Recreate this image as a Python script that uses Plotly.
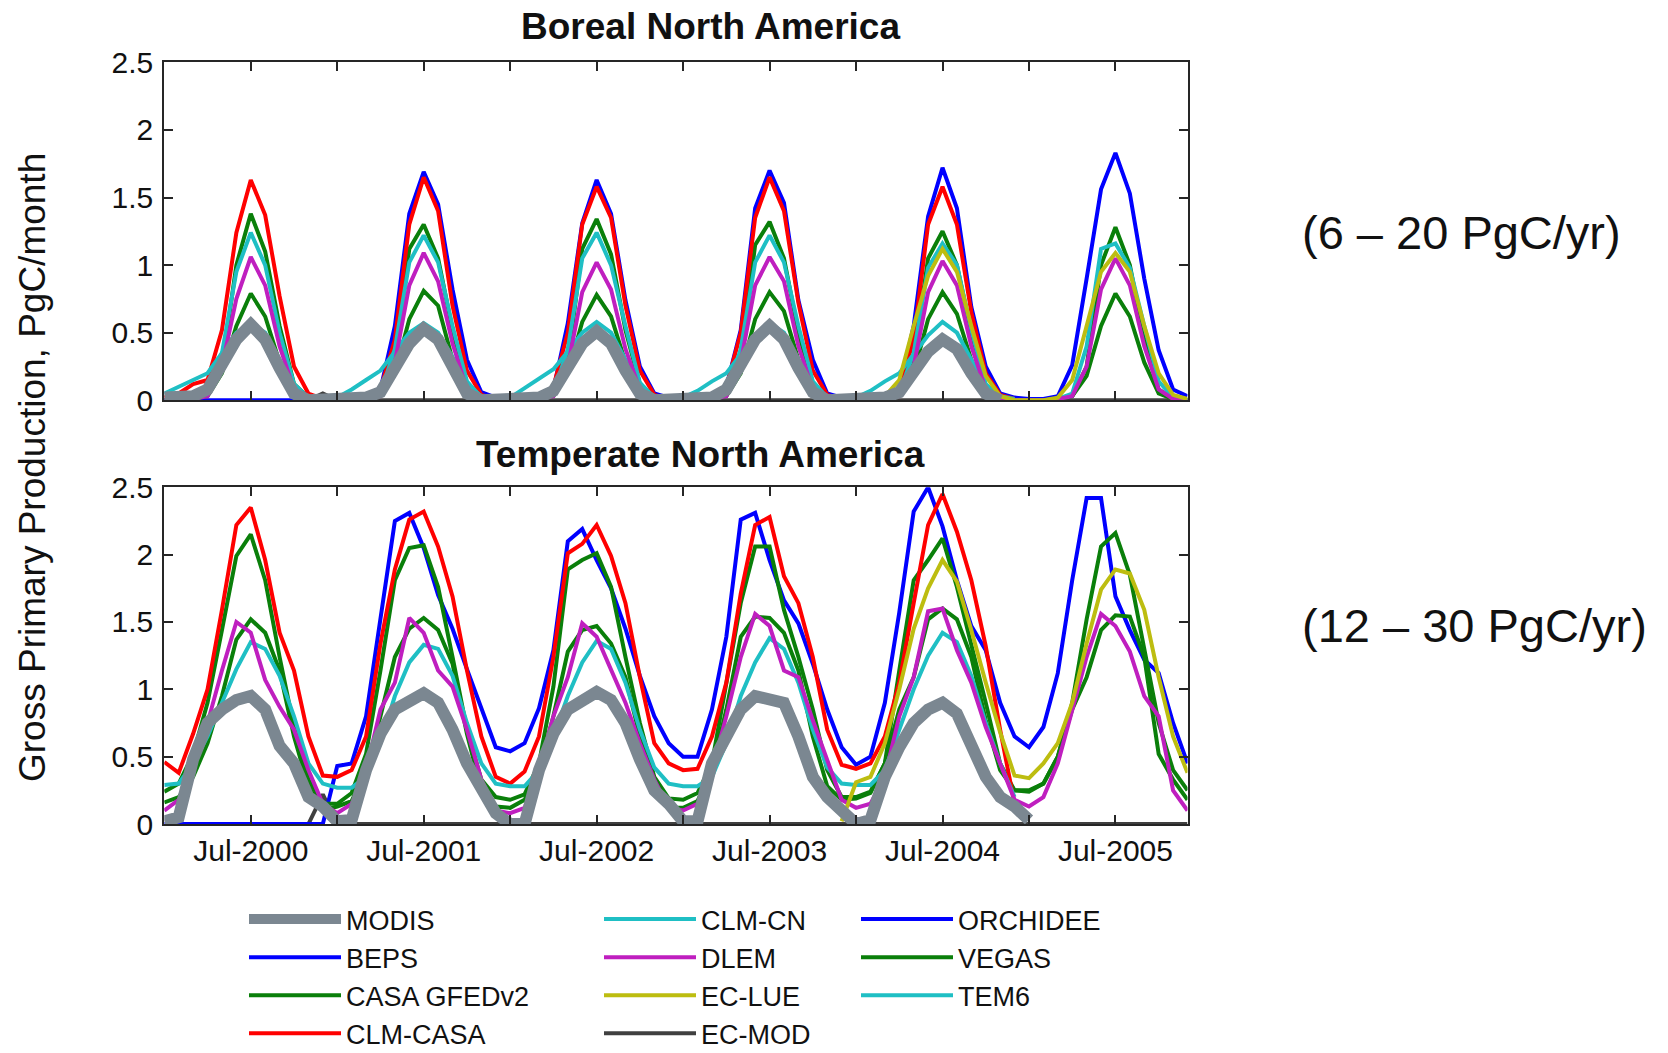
import plotly.graph_objects as go

N = None
months = list(range(72))  # month index: 0 = Jan-2000 ... 71 = Dec-2005

x_tick_months = [0, 6, 12, 18, 24, 30, 36, 42, 48, 54, 60, 66]
x_tick_text = ['', 'Jul-2000', '', 'Jul-2001', '', 'Jul-2002', '', 'Jul-2003', '', 'Jul-2004', '', 'Jul-2005']
y_tick_vals = [0, 0.5, 1, 1.5, 2, 2.5]
y_tick_text = ['0', '0.5', '1', '1.5', '2', '2.5']

panel_titles = ['Boreal North America', 'Temperate North America']
panel_ranges = ['(6 \u2013 20 PgC/yr)', '(12 \u2013 30 PgC/yr)']
y_title = 'Gross Primary Production, PgC/month'

# ---------------- Boreal North America ----------------
boreal_modis = [
    0.02, 0.02, 0.03, 0.08, 0.25, 0.45, 0.56, 0.45, 0.24, 0.05, 0.0, 0.0,
    0.0, 0.0, 0.02, 0.06, 0.22, 0.42, 0.53, 0.45, 0.25, 0.05, 0.0, 0.0,
    0.0, 0.0, 0.02, 0.07, 0.24, 0.42, 0.51, 0.42, 0.22, 0.05, 0.0, 0.0,
    0.0, 0.0, 0.02, 0.08, 0.26, 0.45, 0.55, 0.45, 0.24, 0.06, 0.0, 0.0,
    0.0, 0.0, 0.02, 0.06, 0.2, 0.36, 0.45, 0.38, 0.2, 0.05, 0.0, N,
    N, N, N, N, N, N, N, N, N, N, N, N]
boreal_beps = [
    0.0, 0.0, 0.0, 0.0, 0.0, 0.0, 0.0, 0.0, 0.0, 0.0, 0.0, 0.0,
    0.0, 0.0, 0.02, 0.08, 0.55, 1.38, 1.69, 1.45, 0.82, 0.3, 0.06, 0.02,
    0.01, 0.01, 0.02, 0.08, 0.57, 1.31, 1.63, 1.38, 0.74, 0.25, 0.05, 0.02,
    0.01, 0.01, 0.02, 0.1, 0.52, 1.42, 1.70, 1.46, 0.74, 0.3, 0.05, 0.02,
    0.01, 0.01, 0.02, 0.08, 0.55, 1.36, 1.72, 1.42, 0.69, 0.25, 0.05, 0.02,
    0.01, 0.01, 0.03, 0.26, 0.9, 1.56, 1.83, 1.53, 0.9, 0.37, 0.08, 0.03]
boreal_casa = [
    0.0, 0.0, 0.02, 0.05, 0.25, 1.0, 1.38, 1.1, 0.55, 0.12, 0.02, 0.0,
    0.0, 0.0, 0.01, 0.04, 0.3, 1.12, 1.30, 1.05, 0.52, 0.12, 0.02, 0.0,
    0.0, 0.0, 0.01, 0.04, 0.28, 1.12, 1.34, 1.08, 0.52, 0.12, 0.02, 0.0,
    0.0, 0.0, 0.01, 0.04, 0.3, 1.15, 1.32, 1.05, 0.5, 0.12, 0.02, 0.0,
    0.0, 0.0, 0.01, 0.04, 0.3, 1.05, 1.25, 1.0, 0.5, 0.1, 0.02, 0.0,
    0.0, 0.0, 0.01, 0.03, 0.25, 1.0, 1.28, 1.0, 0.45, 0.08, 0.01, 0.0]
boreal_clmcasa = [
    0.02, 0.05, 0.12, 0.15, 0.52, 1.24, 1.63, 1.37, 0.77, 0.25, 0.05, 0.01,
    0.0, 0.0, 0.02, 0.08, 0.45, 1.3, 1.65, 1.4, 0.7, 0.22, 0.04, 0.01,
    0.0, 0.0, 0.03, 0.1, 0.5, 1.3, 1.58, 1.35, 0.7, 0.22, 0.04, 0.01,
    0.0, 0.0, 0.03, 0.1, 0.5, 1.35, 1.65, 1.4, 0.72, 0.22, 0.04, 0.01,
    0.0, 0.0, 0.03, 0.08, 0.45, 1.3, 1.58, 1.3, 0.65, 0.2, 0.04, 0.01,
    N, N, N, N, N, N, N, N, N, N, N, N]
boreal_clmcn = [
    0.05, 0.1, 0.15, 0.2, 0.35, 0.5, 0.57, 0.5, 0.3, 0.1, 0.02, 0.01,
    0.02, 0.08, 0.15, 0.22, 0.36, 0.5, 0.57, 0.5, 0.32, 0.12, 0.03, 0.01,
    0.02, 0.09, 0.16, 0.23, 0.36, 0.5, 0.58, 0.5, 0.3, 0.1, 0.03, 0.01,
    0.02, 0.07, 0.14, 0.2, 0.34, 0.48, 0.57, 0.5, 0.3, 0.1, 0.03, 0.01,
    0.02, 0.07, 0.14, 0.2, 0.34, 0.48, 0.58, 0.5, 0.3, 0.1, 0.03, 0.01,
    N, N, N, N, N, N, N, N, N, N, N, N]
boreal_dlem = [
    0.0, 0.0, 0.01, 0.03, 0.25, 0.75, 1.06, 0.85, 0.4, 0.08, 0.01, 0.0,
    0.0, 0.0, 0.01, 0.03, 0.28, 0.85, 1.09, 0.88, 0.42, 0.08, 0.01, 0.0,
    0.0, 0.0, 0.01, 0.03, 0.25, 0.8, 1.02, 0.82, 0.38, 0.08, 0.01, 0.0,
    0.0, 0.0, 0.01, 0.03, 0.28, 0.85, 1.06, 0.88, 0.4, 0.08, 0.01, 0.0,
    0.0, 0.0, 0.01, 0.03, 0.25, 0.8, 1.03, 0.85, 0.4, 0.08, 0.01, 0.0,
    0.0, 0.0, 0.01, 0.03, 0.25, 0.82, 1.05, 0.85, 0.4, 0.08, 0.01, 0.0]
boreal_eclue = [
    N, N, N, N, N, N, N, N, N, N, N, N,
    N, N, N, N, N, N, N, N, N, N, N, N,
    N, N, N, N, N, N, N, N, N, N, N, N,
    N, N, N, N, N, N, N, N, N, N, N, 0.0,
    0.0, 0.01, 0.03, 0.15, 0.55, 0.92, 1.12, 0.95, 0.55, 0.18, 0.03, 0.0,
    0.0, 0.0, 0.02, 0.15, 0.55, 0.95, 1.09, 0.95, 0.55, 0.2, 0.04, 0.01]
boreal_ecmod = [
    N, N, N, N, N, N, N, N, N, N, 0.0, 0.05,
    0.0, 0.0, 0.0, 0.0, 0.0, 0.0, 0.0, 0.0, 0.0, 0.0, 0.0, 0.0,
    0.0, 0.0, 0.0, 0.0, 0.0, 0.0, 0.0, 0.0, 0.0, 0.0, 0.0, 0.0,
    0.0, 0.0, 0.0, 0.0, 0.0, 0.0, 0.0, 0.0, 0.0, 0.0, 0.0, 0.0,
    0.0, 0.0, 0.0, 0.0, 0.0, 0.0, 0.0, 0.0, 0.0, 0.0, 0.0, 0.0,
    0.0, 0.0, 0.0, 0.0, 0.0, 0.0, 0.0, 0.0, 0.0, 0.0, 0.0, 0.0]
boreal_orchidee = [N] * 72
boreal_vegas = [
    0.0, 0.0, 0.01, 0.03, 0.2, 0.55, 0.79, 0.62, 0.28, 0.06, 0.01, 0.0,
    0.0, 0.0, 0.01, 0.03, 0.2, 0.6, 0.81, 0.7, 0.3, 0.06, 0.01, 0.0,
    0.0, 0.0, 0.01, 0.03, 0.2, 0.58, 0.78, 0.62, 0.28, 0.06, 0.01, 0.0,
    0.0, 0.0, 0.01, 0.03, 0.2, 0.6, 0.8, 0.66, 0.3, 0.06, 0.01, 0.0,
    0.0, 0.0, 0.01, 0.03, 0.2, 0.6, 0.8, 0.64, 0.3, 0.06, 0.01, 0.0,
    0.0, 0.0, 0.01, 0.03, 0.18, 0.55, 0.79, 0.62, 0.28, 0.05, 0.01, 0.0]
boreal_tem6 = [
    0.0, 0.0, 0.01, 0.05, 0.35, 0.95, 1.24, 1.0, 0.5, 0.12, 0.02, 0.0,
    0.0, 0.0, 0.01, 0.05, 0.38, 1.02, 1.22, 1.02, 0.55, 0.14, 0.02, 0.0,
    0.0, 0.0, 0.01, 0.05, 0.38, 1.05, 1.24, 1.0, 0.55, 0.13, 0.02, 0.0,
    0.0, 0.0, 0.01, 0.05, 0.38, 1.02, 1.22, 1.02, 0.55, 0.14, 0.02, 0.0,
    0.0, 0.0, 0.01, 0.05, 0.35, 0.98, 1.16, 1.0, 0.52, 0.12, 0.02, 0.0,
    0.0, 0.0, 0.01, 0.05, 0.4, 1.12, 1.16, 0.98, 0.55, 0.14, 0.02, 0.0]

# ---------------- Temperate North America ----------------
temperate_modis = [
    0.02, 0.05, 0.48, 0.75, 0.85, 0.92, 0.95, 0.85, 0.58, 0.45, 0.2, 0.13,
    0.02, 0.03, 0.4, 0.67, 0.85, 0.92, 0.97, 0.9, 0.7, 0.45, 0.28, 0.08,
    0.0, 0.0, 0.4, 0.67, 0.85, 0.92, 0.98, 0.92, 0.75, 0.48, 0.25, 0.15,
    0.02, 0.02, 0.45, 0.65, 0.85, 0.95, 0.92, 0.9, 0.65, 0.35, 0.2, 0.1,
    0.0, 0.03, 0.35, 0.57, 0.75, 0.85, 0.9, 0.82, 0.6, 0.35, 0.2, 0.13,
    0.03, N, N, N, N, N, N, N, N, N, N, N]
temperate_beps = [
    0.0, 0.0, 0.0, 0.0, 0.0, 0.0, 0.0, 0.0, 0.0, 0.0, 0.0, 0.0,
    0.43, 0.45, 0.8, 1.52, 2.25, 2.31, 2.05, 1.7, 1.45, 1.15, 0.85, 0.57,
    0.54, 0.6, 0.86, 1.29, 2.1, 2.19, 1.96, 1.75, 1.45, 1.1, 0.8, 0.6,
    0.5, 0.5, 0.85, 1.39, 2.26, 2.31, 1.96, 1.66, 1.49, 1.19, 0.85, 0.57,
    0.44, 0.5, 0.9, 1.57, 2.32, 2.5, 2.21, 1.81, 1.47, 1.29, 0.9, 0.65,
    0.57, 0.72, 1.12, 1.81, 2.42, 2.42, 1.69, 1.44, 1.22, 1.12, 0.75, 0.45]
temperate_casa = [
    0.24, 0.3, 0.52, 0.9, 1.44, 1.99, 2.15, 1.81, 1.24, 0.72, 0.33, 0.15,
    0.15, 0.23, 0.52, 1.14, 1.81, 2.05, 2.07, 1.76, 1.24, 0.7, 0.33, 0.2,
    0.18, 0.22, 0.45, 1.02, 1.89, 1.96, 2.01, 1.76, 1.24, 0.75, 0.35, 0.19,
    0.18, 0.23, 0.45, 1.05, 1.64, 2.06, 2.06, 1.59, 1.24, 0.85, 0.4, 0.2,
    0.2, 0.24, 0.45, 1.14, 1.81, 1.96, 2.12, 1.76, 1.34, 0.9, 0.45, 0.25,
    0.24, 0.3, 0.5, 0.9, 1.52, 2.06, 2.16, 1.85, 1.3, 0.75, 0.4, 0.25]
temperate_clmcasa = [
    0.46, 0.38, 0.67, 1.0, 1.59, 2.22, 2.35, 1.96, 1.42, 1.14, 0.65, 0.36,
    0.35, 0.4, 0.65, 1.34, 1.89, 2.26, 2.32, 2.06, 1.69, 1.14, 0.65, 0.35,
    0.3, 0.39, 0.65, 1.24, 2.01, 2.08, 2.22, 1.99, 1.64, 1.09, 0.6, 0.45,
    0.4, 0.41, 0.65, 1.05, 1.71, 2.22, 2.28, 1.84, 1.64, 1.24, 0.7, 0.44,
    0.41, 0.45, 0.65, 1.05, 1.64, 2.22, 2.45, 2.17, 1.81, 1.32, 0.7, 0.15,
    N, N, N, N, N, N, N, N, N, N, N, N]
temperate_clmcn = [
    0.29, 0.3, 0.45, 0.65, 0.9, 1.15, 1.35, 1.3, 1.1, 0.8, 0.45, 0.3,
    0.27, 0.27, 0.35, 0.6, 0.95, 1.2, 1.33, 1.3, 1.1, 0.75, 0.45, 0.3,
    0.28, 0.28, 0.4, 0.65, 0.95, 1.2, 1.36, 1.3, 1.05, 0.7, 0.42, 0.3,
    0.28, 0.28, 0.35, 0.6, 0.95, 1.2, 1.38, 1.3, 1.05, 0.7, 0.42, 0.3,
    0.29, 0.29, 0.4, 0.7, 1.0, 1.25, 1.42, 1.35, 1.1, 0.75, 0.45, 0.2,
    N, N, N, N, N, N, N, N, N, N, N, N]
temperate_dlem = [
    0.1, 0.18, 0.4, 0.75, 1.14, 1.5, 1.42, 1.07, 0.87, 0.7, 0.4, 0.15,
    0.08, 0.15, 0.4, 0.85, 1.05, 1.53, 1.42, 1.14, 1.02, 0.7, 0.33, 0.1,
    0.08, 0.12, 0.4, 0.8, 1.09, 1.49, 1.39, 1.14, 0.9, 0.6, 0.33, 0.12,
    0.1, 0.15, 0.4, 0.8, 1.24, 1.56, 1.47, 1.14, 1.09, 0.77, 0.48, 0.18,
    0.12, 0.15, 0.35, 0.8, 1.09, 1.58, 1.6, 1.29, 1.05, 0.72, 0.45, 0.18,
    0.13, 0.2, 0.45, 0.85, 1.24, 1.56, 1.47, 1.28, 0.95, 0.8, 0.25, 0.1]
temperate_eclue = [
    N, N, N, N, N, N, N, N, N, N, N, N,
    N, N, N, N, N, N, N, N, N, N, N, N,
    N, N, N, N, N, N, N, N, N, N, N, N,
    N, N, N, N, N, N, N, N, N, N, N, 0.02,
    0.31, 0.35, 0.6, 1.0, 1.45, 1.75, 1.96, 1.8, 1.44, 1.05, 0.68, 0.36,
    0.34, 0.45, 0.6, 0.9, 1.34, 1.74, 1.89, 1.86, 1.59, 1.09, 0.65, 0.38]
temperate_ecmod = [
    N, N, N, N, N, N, N, N, N, N, 0.0, 0.22,
    0.0, 0.0, 0.0, 0.0, 0.0, 0.0, 0.0, 0.0, 0.0, 0.0, 0.0, 0.0,
    0.0, 0.0, 0.0, 0.0, 0.0, 0.0, 0.0, 0.0, 0.0, 0.0, 0.0, 0.0,
    0.0, 0.0, 0.0, 0.0, 0.0, 0.0, 0.0, 0.0, 0.0, 0.0, 0.0, 0.0,
    0.0, 0.0, 0.0, 0.0, 0.0, 0.0, 0.0, 0.0, 0.0, 0.0, 0.0, 0.0,
    0.0, 0.0, 0.0, 0.0, 0.0, 0.0, 0.0, 0.0, 0.0, 0.0, 0.0, 0.0]
temperate_orchidee = [N] * 72
temperate_vegas = [
    0.16, 0.2, 0.35, 0.6, 0.95, 1.37, 1.52, 1.42, 1.14, 0.65, 0.28, 0.1,
    0.13, 0.17, 0.4, 0.8, 1.24, 1.45, 1.53, 1.44, 1.19, 0.67, 0.25, 0.13,
    0.12, 0.18, 0.4, 0.8, 1.28, 1.44, 1.47, 1.34, 1.09, 0.65, 0.25, 0.12,
    0.12, 0.17, 0.4, 0.85, 1.39, 1.54, 1.53, 1.42, 1.14, 0.65, 0.28, 0.18,
    0.19, 0.23, 0.45, 0.85, 1.09, 1.52, 1.6, 1.52, 1.24, 0.77, 0.4, 0.25,
    0.25, 0.3, 0.5, 0.85, 1.09, 1.44, 1.55, 1.54, 1.24, 0.52, 0.33, 0.18]
temperate_tem6 = [N] * 72

# name, boreal data, temperate data, colour, width, legend, rank in legend column
series = [
    ('EC-MOD', boreal_ecmod, temperate_ecmod, '#404040', 4, 'legend2', 4),
    ('ORCHIDEE', boreal_orchidee, temperate_orchidee, '#0000ff', 4, 'legend3', 1),
    ('BEPS', boreal_beps, temperate_beps, '#0000ff', 4, 'legend', 2),
    ('VEGAS', boreal_vegas, temperate_vegas, '#0a7f0a', 4, 'legend3', 2),
    ('CASA GFEDv2', boreal_casa, temperate_casa, '#0a7f0a', 4, 'legend', 3),
    ('CLM-CASA', boreal_clmcasa, temperate_clmcasa, '#ff0000', 4, 'legend', 4),
    ('CLM-CN', boreal_clmcn, temperate_clmcn, '#1fbfc4', 4, 'legend2', 1),
    ('TEM6', boreal_tem6, temperate_tem6, '#1fbfc4', 4, 'legend3', 3),
    ('DLEM', boreal_dlem, temperate_dlem, '#bf1fbf', 4, 'legend2', 2),
    ('EC-LUE', boreal_eclue, temperate_eclue, '#bdbd10', 4, 'legend2', 3),
    ('MODIS', boreal_modis, temperate_modis, '#7b8791', 12, 'legend', 1),
]

fig = go.Figure()
for name, bor, tem, color, width, leg, rank in series:
    fig.add_trace(go.Scatter(
        x=months, y=bor, mode='lines', name=name, legendgroup=name,
        line=dict(color=color, width=width), xaxis='x', yaxis='y',
        legend=leg, legendrank=rank, showlegend=True, cliponaxis=False))
    fig.add_trace(go.Scatter(
        x=months, y=tem, mode='lines', name=name, legendgroup=name,
        line=dict(color=color, width=width), xaxis='x2', yaxis='y2',
        showlegend=False, cliponaxis=False))

W, H = 1668, 1053
FONT = 'Liberation Sans, Arial, Helvetica, sans-serif'
x_dom = [164.3 / W, 1187.5 / W]
top_dom = [1 - 400.3 / H, 1 - 62.3 / H]
bot_dom = [1 - 824.0 / H, 1 - 487.3 / H]

axis_common = dict(
    showline=True, linecolor='#262626', linewidth=2, mirror='ticks',
    ticks='inside', ticklen=9, tickwidth=1.5, tickcolor='#262626',
    showgrid=False, zeroline=False,
    tickfont=dict(family=FONT, size=30, color='#111111'),
)

legend_common = dict(xanchor='left', yanchor='top',
                     font=dict(family=FONT, size=27, color='#111111'),
                     bgcolor='rgba(0,0,0,0)', itemwidth=92, tracegroupgap=0)
LEG_TOP = 1 - 895 / H

fig.update_layout(
    width=W, height=H, autosize=False,
    margin=dict(l=0, r=0, t=0, b=0, autoexpand=False),
    paper_bgcolor='white', plot_bgcolor='white',
    font=dict(family=FONT, color='#111111'),
    xaxis=dict(domain=x_dom, anchor='y', range=[0, 71], tickvals=x_tick_months,
               ticktext=x_tick_text, showticklabels=False, **axis_common),
    yaxis=dict(domain=top_dom, anchor='x', range=[0, 2.5], tickvals=y_tick_vals,
               ticktext=y_tick_text, ticklabelstandoff=3, **axis_common),
    xaxis2=dict(domain=x_dom, anchor='y2', range=[0, 71], tickvals=x_tick_months,
                ticktext=x_tick_text, ticklabelstandoff=-1, **axis_common),
    yaxis2=dict(domain=bot_dom, anchor='x2', range=[0, 2.5], tickvals=y_tick_vals,
                ticktext=y_tick_text, ticklabelstandoff=3, **axis_common),
    legend=dict(x=244 / W, y=LEG_TOP, **legend_common),
    legend2=dict(x=599 / W, y=LEG_TOP, **legend_common),
    legend3=dict(x=856 / W, y=LEG_TOP, **legend_common),
    annotations=[
        dict(text='<b>' + panel_titles[0] + '</b>', x=710 / W, y=1 - 26.6 / H,
             xref='paper', yref='paper', xanchor='center', yanchor='middle',
             showarrow=False, font=dict(family=FONT, size=37, color='#111111')),
        dict(text='<b>' + panel_titles[1] + '</b>', x=700.5 / W, y=1 - 455 / H,
             xref='paper', yref='paper', xanchor='center', yanchor='middle',
             showarrow=False, font=dict(family=FONT, size=37, color='#111111')),
        dict(text=y_title, x=32 / W, y=1 - 468 / H, xref='paper', yref='paper',
             xanchor='center', yanchor='middle', textangle=-90, showarrow=False,
             font=dict(family=FONT, size=37, color='#111111')),
        dict(text=panel_ranges[0], x=1300 / W, y=1 - 232 / H, xref='paper', yref='paper',
             xanchor='left', yanchor='middle', showarrow=False,
             font=dict(family=FONT, size=47, color='#111111')),
        dict(text=panel_ranges[1], x=1300 / W, y=1 - 625.5 / H, xref='paper', yref='paper',
             xanchor='left', yanchor='middle', showarrow=False,
             font=dict(family=FONT, size=47, color='#111111')),
    ],
)

fig.write_html("out.html", config={'displayModeBar': False},
               post_script="document.body.style.margin='0';document.body.style.overflow='hidden';")
